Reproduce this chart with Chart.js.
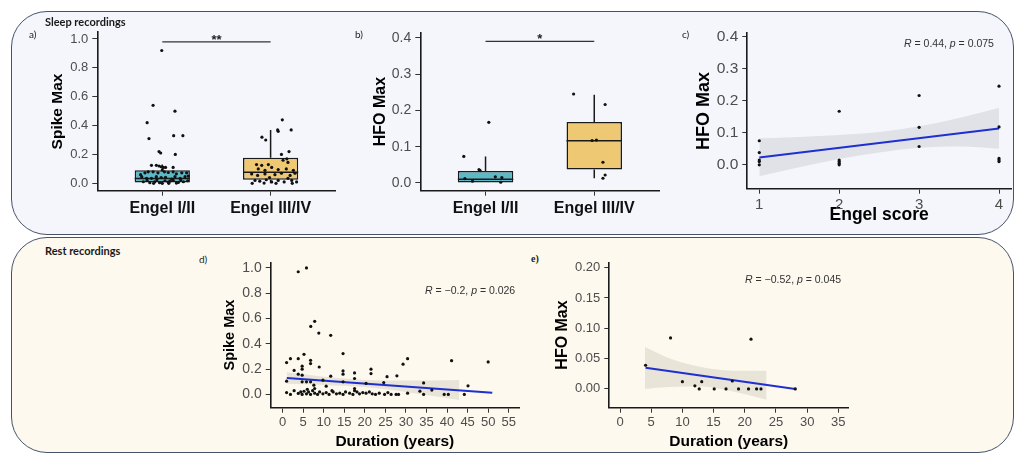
<!DOCTYPE html>
<html>
<head>
<meta charset="utf-8">
<script src="https://cdn.jsdelivr.net/npm/chart.js@4.4.1/dist/chart.umd.min.js"></script>
<style>
  html, body { margin: 0; padding: 0; background: #fff; }
  body { width: 1018px; height: 455px; position: relative; overflow: hidden; font-family: "Liberation Sans", Arial, sans-serif; }
  .panel { position: absolute; border: 1.5px solid #45546b; box-sizing: border-box; border-radius: 36px; }
  #sleep { left: 11px; top: 11px; width: 1003px; height: 224px; background: #f4f6fb; }
  #rest { left: 11px; top: 237px; width: 1003px; height: 216px; background: #fdf9ee; }
  .hdr { position: absolute; font: bold 11px Lato, sans-serif; color: #1a1a1a; white-space: nowrap; }
  .tag { position: absolute; font: 10px Lato, sans-serif; color: #222; }
  .stat { position: absolute; font: 10.5px "Liberation Sans", Arial, sans-serif; color: #333; white-space: nowrap; line-height: 12px; }
  canvas { position: absolute; }
</style>
</head>
<body>
<div class="panel" id="sleep"></div>
<div class="panel" id="rest"></div>

<canvas id="cA"></canvas>
<canvas id="cB"></canvas>
<canvas id="cC"></canvas>
<canvas id="cD"></canvas>
<canvas id="cE"></canvas>

<div class="hdr" style="left:45px;top:15px">Sleep recordings</div>
<div class="hdr" style="left:45px;top:244px">Rest recordings</div>
<div class="tag" style="left:29px;top:28px">a)</div>
<div class="tag" style="left:355px;top:28px">b)</div>
<div class="tag" style="left:682px;top:28px">c)</div>
<div class="tag" style="left:199px;top:253px">d)</div>
<div class="tag" style="left:531px;top:253px;font-family:'Liberation Serif',serif;font-weight:bold">e)</div>
<div class="stat" style="left:904px;top:37px"><i>R</i> = 0.44, <i>p</i> = 0.075</div>
<div class="stat" style="left:425px;top:284px"><i>R</i> = −0.2, <i>p</i> = 0.026</div>
<div class="stat" style="left:745px;top:273px"><i>R</i> = −0.52, <i>p</i> = 0.045</div>

<script>
// ---- data ----
const engelGroups = ['Engel I/II', 'Engel III/IV'];
const groupColors = ['#5cb9c5', '#efc874'];

// a) sleep: spike max, jittered position + value
const spikeSleepPts = [
  [0.995,0.92],[0.915,0.54],[1.117,0.50],[0.86,0.42],[1.105,0.33],[1.19,0.33],[0.877,0.31],[0.97,0.22],[0.985,0.21],[1.12,0.20],
  [0.90,0.125],[0.945,0.125],[0.97,0.12],[0.99,0.115],[1.01,0.11],[1.03,0.11],[1.10,0.11],
  [0.84,0.073],[0.87,0.08],[0.915,0.08],[0.96,0.073],[1.0,0.092],[1.02,0.08],[1.055,0.075],[1.10,0.08],[1.13,0.066],[1.18,0.073],[1.225,0.073],
  [0.81,0.046],[0.855,0.035],[0.90,0.035],[0.945,0.046],[0.99,0.04],[1.03,0.042],[1.087,0.03],[1.117,0.046],[1.165,0.035],[1.21,0.046],
  [0.825,0.011],[0.885,0.004],[0.93,0.011],[0.975,0.004],[1.025,0.018],[1.055,0.008],[1.10,0.022],[1.148,0.006],[1.195,0.011],[1.235,0.018],
  [0.86,0.02],[0.95,0.025],[1.07,0.015],[1.17,0.025],[0.92,0.0],[1.0,0.0],[1.06,0.0],[1.13,0.002],[0.80,0.06],[1.24,0.05],
  [2.108,0.44],[2.065,0.37],[2.07,0.36],[2.19,0.37],[1.92,0.32],[1.955,0.30],[2.17,0.22],[2.10,0.20],[2.15,0.17],
  [1.87,0.13],[1.918,0.125],[1.979,0.13],[2.115,0.16],[2.16,0.145],
  [1.886,0.10],[1.948,0.09],[2.01,0.11],[2.07,0.095],[2.145,0.10],[2.21,0.09],
  [1.825,0.065],[1.88,0.055],[1.948,0.065],[2.04,0.06],[2.10,0.07],[2.18,0.055],[2.225,0.07],
  [1.856,0.02],[1.90,0.015],[1.96,0.025],[2.01,0.01],[2.07,0.02],[2.125,0.01],[2.195,0.02],[2.24,0.01],
  [1.83,0.0],[1.94,0.002],[2.05,0.0],[2.20,0.0],[1.99,0.04],[2.16,0.035]
];
const spikeBoxLow = [0.0, 0.0];
const spikeBoxQ1 = [0.005, 0.024];
const spikeBoxMed = [0.034, 0.077];
const spikeBoxQ3 = [0.091, 0.178];
const spikeBoxHigh = [0.13, 0.37];
const spikeTicks = [0.0, 0.2, 0.4, 0.6, 0.8, 1.0];

// b) sleep: HFO max by group
const hfoSleepPts = [
  [1.03,0.167],[0.80,0.073],[0.94,0.037],[0.95,0.034],[0.81,0.012],[0.88,0.005],[1.09,0.017],[1.15,0.015],[1.14,0.002],
  [1.81,0.245],[2.10,0.216],[2.02,0.118],[1.98,0.117],[2.08,0.057],[2.10,0.022],[2.08,0.013]
];
const hfoBoxLow = [0.0, 0.013];
const hfoBoxQ1 = [0.0, 0.037];
const hfoBoxMed = [0.01, 0.116];
const hfoBoxQ3 = [0.033, 0.168];
const hfoBoxHigh = [0.073, 0.243];
const hfoTicks = [0.0, 0.1, 0.2, 0.3, 0.4];

// c) HFO max vs Engel score
const engelScore = [1,1,1,1,1, 2,2,2,2,2, 3,3,3, 4,4,4,4,4];
const engelHfo = [0.075,0.038,0.015,0.01,0.0, 0.167,0.015,0.01,0.005,0.0, 0.216,0.117,0.057, 0.245,0.118,0.02,0.015,0.01];
const engelFitX = [1, 4];
const engelFitY = [0.023, 0.113];
const engelBandX = [1, 1.5, 2, 2.5, 3, 3.5, 4];
const engelBandLo = [-0.036, -0.008, 0.018, 0.038, 0.053, 0.057, 0.05];
const engelBandHi = [0.083, 0.087, 0.093, 0.102, 0.12, 0.146, 0.177];
const engelTicks = [1, 2, 3, 4];

// d) rest: spike max vs duration
const durSpikePts = [
  [3.8,0.97],[5.8,1.0],[6.85,0.538],[7.8,0.578],[8.8,0.485],[11.7,0.467],
  [0.97,0.252],[1.9,0.283],[3.8,0.283],[5.2,0.317],[6.8,0.27],[6.8,0.244],[8.9,0.217],[4.75,0.223],[4.75,0.2],[2.8,0.19],
  [14.7,0.323],[29.3,0.239],[30.4,0.283],[41.1,0.267],[50,0.257],
  [3.8,0.16],[4.75,0.152],[11.7,0.144],[14.7,0.186],[14.7,0.16],[17.5,0.17],[17.5,0.126],[21.5,0.2],[21.5,0.165],[25.4,0.14],[27.8,0.147],
  [0.97,0.105],[4.75,0.1],[5.8,0.1],[6.8,0.1],[7.6,0.073],[9.8,0.113],[7.8,0.047],[14.7,0.1],[17.5,0.047],[20.3,0.087],[24.6,0.094],
  [10.6,0.065],[34.3,0.091],[45.1,0.068],[36.3,0.034],[33.4,0.026],[17.5,0.03],
  [0.97,0.015],[1.9,0.0],[2.8,0.03],[3.8,0.008],[4.4,0.02],[4.75,0.0],[5.2,0.025],[5.8,0.005],[6.3,0.02],[6.8,0.0],
  [7.3,0.03],[7.8,0.01],[8.5,0.0],[9.0,0.02],[9.8,0.005],[10.6,0.015],[11.3,0.0],[12.3,0.02],[13.1,0.005],[13.9,0.01],
  [14.7,0.0],[15.3,0.02],[16.3,0.01],[17.1,0.0],[18.1,0.02],[18.7,0.005],[19.5,0.015],[20.3,0.01],[21.1,0.02],[21.8,0.005],
  [22.6,0.0],[23.5,0.01],[24.8,0.0],[25.6,0.015],[26.4,0.0],[27.6,0.0],[28.2,0.0],[30.4,0.01],[34.3,0.0],[39.3,0.0],
  [40.3,0.0],[44.2,0.0],[6.0,0.04],[12.0,0.03]
];
const durSpikeFitX = [1, 51];
const durSpikeFitY = [0.13, 0.013];
const durSpikeBandX = [1, 10, 20, 30, 43];
const durSpikeBandLo = [0.085, 0.075, 0.058, 0.02, -0.045];
const durSpikeBandHi = [0.175, 0.14, 0.115, 0.11, 0.115];
const durSpikeXTicks = [0, 5, 10, 15, 20, 25, 30, 35, 40, 45, 50, 55];

// e) rest: HFO max vs duration
const durHfoPts = [
  [4.1,0.039],[8.1,0.084],[21,0.082],[10,0.012],[12,0.005],[12.7,0],[13.1,0.012],[15.1,0],
  [17,0],[18,0.013],[19,0],[20.6,0],[21.9,0],[22.6,0],[28.1,0]
];
const durHfoFitX = [4.1, 28.1];
const durHfoFitY = [0.035, 0.0];
const durHfoBandX = [4, 8, 13, 18, 23.5];
const durHfoBandLo = [0.0, 0.003, 0.004, -0.004, -0.018];
const durHfoBandHi = [0.069, 0.05, 0.036, 0.03, 0.03];
const durHfoXTicks = [0, 5, 10, 15, 20, 25, 30, 35];
const durHfoYTicks = [0.0, 0.05, 0.10, 0.15, 0.20];

// ---- helpers ----
const FONT = '"Liberation Sans", Arial, sans-serif';
Chart.defaults.font.family = FONT;

function axis(o) {
  return {
    type: 'linear', bounds: 'data', min: o.min, max: o.max, position: o.position, offset: false,
    afterBuildTicks: s => { s.ticks = o.ticks.map(v => ({ value: v })); },
    ticks: {
      color: o.tickColor || '#4d4d4d', padding: o.pad == null ? 4 : o.pad, maxRotation: 0, autoSkip: false,
      font: { size: o.tickSize, weight: o.tickBold ? 'bold' : 'normal' },
      callback: o.labels ? (v, i) => o.labels[i] : v => Number(v).toFixed(o.digits)
    },
    grid: { offset: false, drawOnChartArea: false, drawTicks: true, tickLength: 5, color: '#333', lineWidth: 1 },
    border: { display: true, color: '#1a1a1a', width: 1.6 },
    title: { display: !!o.title, text: o.title, color: '#000', padding: 0, font: { size: o.titleSize, weight: 'bold' } }
  };
}

function toXY(xs, ys) { return xs.map((x, i) => ({ x, y: ys[i] })); }

function build(id, frame, area, xAxis, yAxis, datasets, plugins) {
  const cv = document.getElementById(id);
  cv.style.left = frame.x + 'px'; cv.style.top = frame.y + 'px';
  cv.style.width = frame.w + 'px'; cv.style.height = frame.h + 'px';
  cv.width = frame.w; cv.height = frame.h;
  yAxis.afterFit = s => { s.width = area.l - frame.x; };
  xAxis.afterFit = s => { s.height = frame.y + frame.h - area.b; };
  return new Chart(cv, {
    type: 'scatter',
    data: { datasets },
    options: {
      responsive: false, animation: false, events: [],
      layout: { padding: { left: 0, top: area.t - frame.y, right: frame.x + frame.w - area.r, bottom: 0 } },
      plugins: { legend: { display: false }, tooltip: { enabled: false } },
      scales: { x: xAxis, y: yAxis }
    },
    plugins: plugins || []
  });
}

function pointSet(pts) {
  return { data: pts.map(p => ({ x: p[0], y: p[1] })), pointRadius: 1.6, pointBackgroundColor: '#111', pointBorderWidth: 0 };
}

function boxSet(q1, q3) {
  return {
    type: 'bar', data: q1.map((v, i) => ({ x: i + 1, y: [v, q3[i]] })),
    backgroundColor: groupColors, borderColor: '#1a1a1a', borderWidth: 1.5, borderSkipped: false,
    categoryPercentage: 1, barPercentage: 0.51
  };
}

function boxPlugin(low, med, high, q1, q3, sigY, sigText) {
  return {
    id: 'boxes',
    beforeDatasetDraw(chart, args) {
      if (args.index !== 1) return;
      const { ctx, scales: { y } } = chart;
      ctx.save(); ctx.strokeStyle = '#1a1a1a'; ctx.lineWidth = 1.5;
      args.meta.data.forEach((bar, i) => {
        ctx.beginPath();
        ctx.moveTo(bar.x, y.getPixelForValue(low[i])); ctx.lineTo(bar.x, y.getPixelForValue(q1[i]));
        ctx.moveTo(bar.x, y.getPixelForValue(q3[i])); ctx.lineTo(bar.x, y.getPixelForValue(high[i]));
        ctx.stroke();
      });
      ctx.restore();
    },
    afterDatasetDraw(chart, args) {
      if (args.index !== 1) return;
      const { ctx, scales: { y } } = chart;
      ctx.save(); ctx.strokeStyle = '#1a1a1a'; ctx.lineWidth = 1.5;
      args.meta.data.forEach((bar, i) => {
        const py = y.getPixelForValue(med[i]);
        ctx.beginPath(); ctx.moveTo(bar.x - bar.width / 2, py); ctx.lineTo(bar.x + bar.width / 2, py); ctx.stroke();
      });
      ctx.restore();
    },
    afterDatasetsDraw(chart) {
      const { ctx, scales: { x, y } } = chart;
      const py = y.getPixelForValue(sigY), x1 = x.getPixelForValue(1), x2 = x.getPixelForValue(2);
      ctx.save(); ctx.strokeStyle = '#333'; ctx.lineWidth = 1.2;
      ctx.beginPath(); ctx.moveTo(x1, py); ctx.lineTo(x2, py); ctx.stroke();
      ctx.fillStyle = '#222'; ctx.font = 'bold 13px ' + FONT; ctx.textAlign = 'center'; ctx.textBaseline = 'alphabetic';
      ctx.fillText(sigText, (x1 + x2) / 2, py + 2);
      ctx.restore();
    }
  };
}

function fitSets(pts, fx, fy, bx, lo, hi, band) {
  return [
    pointSet(pts),
    { type: 'line', showLine: true, data: toXY(fx, fy), borderColor: '#1f2fd0', borderWidth: 2, pointRadius: 0, fill: false },
    { type: 'line', showLine: true, data: toXY(bx, lo), borderWidth: 0, borderColor: 'rgba(0,0,0,0)', pointRadius: 0, fill: false, cubicInterpolationMode: 'monotone' },
    { type: 'line', showLine: true, data: toXY(bx, hi), borderWidth: 0, borderColor: 'rgba(0,0,0,0)', pointRadius: 0, fill: '-1', backgroundColor: band, cubicInterpolationMode: 'monotone' }
  ];
}

// ---- a) ----
build('cA', { x: 48, y: 20, w: 292, h: 211 }, { l: 97.3, t: 32.3, r: 335.6, b: 190.7 },
  axis({ min: 0.4, max: 2.6, ticks: [1, 2], labels: engelGroups, tickSize: 16, tickBold: true, tickColor: '#111', pad: 3 }),
  axis({ min: -0.051, max: 1.046, ticks: spikeTicks, digits: 1, tickSize: 13, title: 'Spike Max', titleSize: 15.5 }),
  [pointSet(spikeSleepPts), boxSet(spikeBoxQ1, spikeBoxQ3)],
  [boxPlugin(spikeBoxLow, spikeBoxMed, spikeBoxHigh, spikeBoxQ1, spikeBoxQ3, 0.979, '**')]);

// ---- b) ----
build('cB', { x: 371, y: 20, w: 294, h: 211 }, { l: 420.3, t: 32.3, r: 659.5, b: 190.7 },
  axis({ min: 0.4, max: 2.6, ticks: [1, 2], labels: engelGroups, tickSize: 16, tickBold: true, tickColor: '#111', pad: 3 }),
  axis({ min: -0.0213, max: 0.4146, ticks: hfoTicks, digits: 1, tickSize: 14, title: 'HFO Max', titleSize: 16 }),
  [pointSet(hfoSleepPts), boxSet(hfoBoxQ1, hfoBoxQ3)],
  [boxPlugin(hfoBoxLow, hfoBoxMed, hfoBoxHigh, hfoBoxQ1, hfoBoxQ3, 0.39, '*')]);

// ---- c) ----
build('cC', { x: 693, y: 20, w: 322, h: 206 }, { l: 747.3, t: 30.7, r: 1011.7, b: 188.7 },
  axis({ min: 0.85, max: 4.15, ticks: engelTicks, digits: 0, tickSize: 15, title: 'Engel score', titleSize: 17.5, pad: 2 }),
  axis({ min: -0.0745, max: 0.41, ticks: hfoTicks, digits: 1, tickSize: 15.5, title: 'HFO Max', titleSize: 18 }),
  fitSets(engelScore.map((x, i) => [x, engelHfo[i]]), engelFitX, engelFitY, engelBandX, engelBandLo, engelBandHi, 'rgba(150,150,160,0.2)'));

// ---- d) ----
build('cD', { x: 221, y: 250, w: 302, h: 201 }, { l: 270.7, t: 261.7, r: 520, b: 407.7 },
  axis({ min: -2.9, max: 57.5, ticks: durSpikeXTicks, digits: 0, tickSize: 13, title: 'Duration (years)', titleSize: 15.5, pad: 2 }),
  axis({ min: -0.105, max: 1.044, ticks: spikeTicks, digits: 1, tickSize: 14, title: 'Spike Max', titleSize: 14.5 }),
  fitSets(durSpikePts, durSpikeFitX, durSpikeFitY, durSpikeBandX, durSpikeBandLo, durSpikeBandHi, 'rgba(150,145,130,0.2)'));

// ---- e) ----
build('cE', { x: 553, y: 250, w: 300, h: 201 }, { l: 609.3, t: 262.3, r: 848.3, b: 407.7 },
  axis({ min: -1.72, max: 36.6, ticks: durHfoXTicks, digits: 0, tickSize: 13, title: 'Duration (years)', titleSize: 15.5, pad: 2 }),
  axis({ min: -0.031, max: 0.2088, ticks: durHfoYTicks, digits: 2, tickSize: 13, title: 'HFO Max', titleSize: 16 }),
  fitSets(durHfoPts, durHfoFitX, durHfoFitY, durHfoBandX, durHfoBandLo, durHfoBandHi, 'rgba(150,145,130,0.2)'));
</script>
</body>
</html>
